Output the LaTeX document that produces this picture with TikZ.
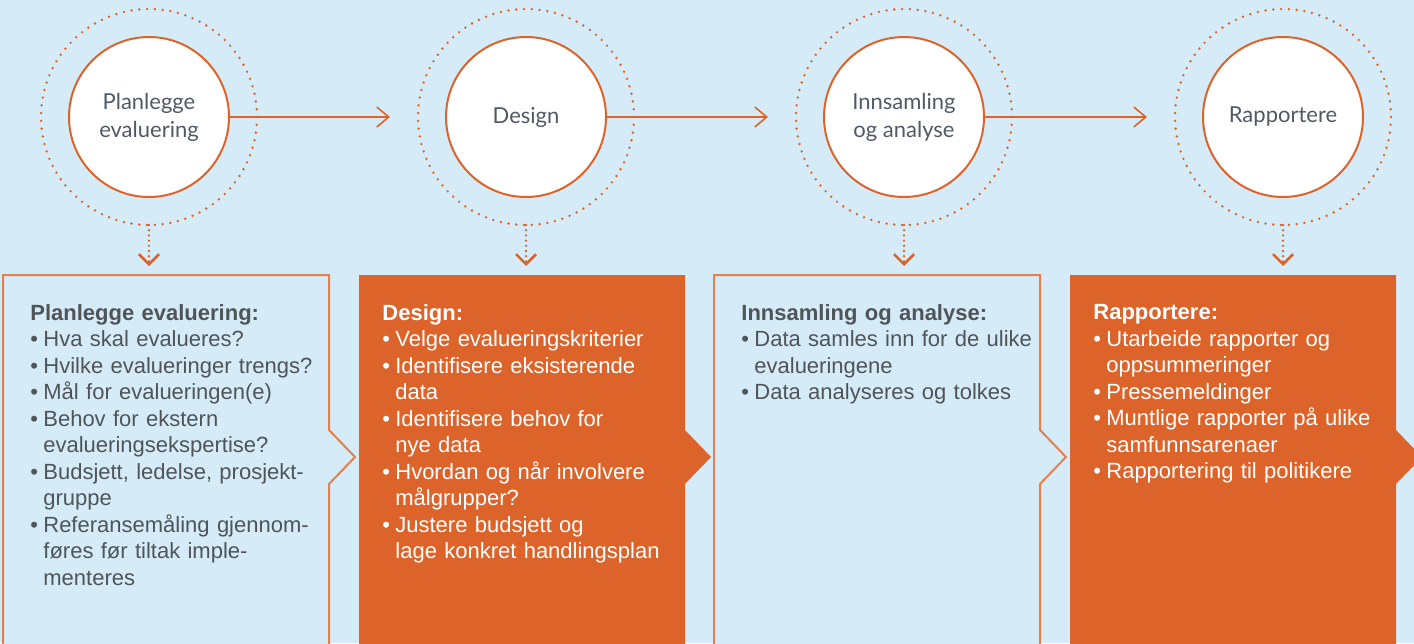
\documentclass[tikz,border=0pt]{standalone}
\usepackage{fontspec}
\setmainfont{Liberation Sans}
\newfontfamily\circfont{Lato}
\usetikzlibrary{arrows.meta,positioning}

\definecolor{bgblue}{HTML}{D5ECF8}
\definecolor{evorange}{HTML}{DC642B}
\definecolor{lineorange}{HTML}{E2804F}
\definecolor{textgray}{HTML}{4F5459}
\definecolor{circgray}{HTML}{505A66}

\newcommand{\bul}{\makebox[6.5pt][l]{\textbullet}}
\newcommand{\cont}{\hspace*{6.5pt}}

\begin{document}
\begin{tikzpicture}[x=0.5pt, y=-0.5pt,
    stepcircle/.style={circle, draw=evorange, line width=1pt, fill=white, minimum size=80pt, inner sep=0pt, align=center, text=circgray, font=\circfont\fontsize{11}{14}\selectfont},
    ring/.style={circle, draw=evorange, line width=1.35pt, dash pattern=on 0pt off 3.9pt, line cap=round, minimum size=108pt, inner sep=0pt, outer sep=0pt},
    flow/.style={draw=evorange, line width=0.8pt, -{Straight Barb[length=6pt,width=10pt]}},
    drop/.style={draw=evorange, line width=1.3pt, dash pattern=on 0pt off 2.6pt, line cap=round, -{Straight Barb[length=5pt,width=10pt]}},
    outbox/.style={draw=lineorange, line width=1pt, fill=bgblue},
    fullbox/.style={fill=evorange},
    boxtext/.style={anchor=north west, inner sep=0pt, text width=158pt, align=left, font=\fontsize{11}{13.25}\selectfont}]

    \useasboundingbox (0,0) rectangle (1414,643);
    \clip (0,0) rectangle (1414,643);
    \fill[bgblue] (0,0) rectangle (1414,643);

    % boxes with a notch on the right
    \foreach \x/\sty in {3/outbox, 359/fullbox, 714/outbox, 1070/fullbox}
        \path[\sty] (\x,275) -- ++(326,0) -- ++(0,155) -- ++(26,27) -- ++(-26,27) -- ++(0,180) -- ++(-326,0) -- cycle;

    % dotted rings
    \foreach \i/\x in {1/149, 2/526, 3/904, 4/1283}
        \node[ring] (r\i) at (\x,117) {};

    \node[stepcircle] (c1) at (r1) {Planlegge\\evaluering};
    \node[stepcircle] (c2) at (r2) {Design};
    \node[stepcircle] (c3) at (r3) {Innsamling\\og analyse};
    \node[stepcircle] (c4) at (r4) {Rapportere};

    \draw[flow] (c1) -- ([xshift=-14pt]r2.west);
    \draw[flow] (c2) -- ([xshift=-14pt]r3.west);
    \draw[flow] (c3) -- ([xshift=-14pt]r4.west);

    \foreach \i/\x in {1/149, 2/526, 3/904, 4/1283} {
        \coordinate (d\i) at (\x,266);
        \draw[drop] (r\i.south) -- (d\i);
    }

    \node[boxtext, text=textgray] (t1) at (30,304) {\textbf{Planlegge evaluering:}\\
        \bul Hva skal evalueres?\\
        \bul Hvilke evalueringer trengs?\\
        \bul Mål for evalueringen(e)\\
        \bul Behov for ekstern\\
        \cont evalueringsekspertise?\\
        \bul Budsjett, ledelse, prosjekt-\\
        \cont gruppe\\
        \bul Referansemåling gjennom-\\
        \cont føres før tiltak imple-\\
        \cont menteres};
    \node[boxtext, text=white] (t2) at (382,304) {\textbf{Design:}\\
        \bul Velge evalueringskriterier\\
        \bul Identifisere eksisterende\\
        \cont data\\
        \bul Identifisere behov for\\
        \cont nye data\\
        \bul Hvordan og når involvere\\
        \cont målgrupper?\\
        \bul Justere budsjett og\\
        \cont lage konkret handlingsplan};
    \node[boxtext, text=textgray] (t3) at (741,304) {\textbf{Innsamling og analyse:}\\
        \bul Data samles inn for de ulike\\
        \cont evalueringene\\
        \bul Data analyseres og tolkes};
    \node[boxtext, text=white] (t4) at (1093,304) {\textbf{Rapportere:}\\
        \bul Utarbeide rapporter og\\
        \cont oppsummeringer\\
        \bul Pressemeldinger\\
        \bul Muntlige rapporter på ulike\\
        \cont samfunnsarenaer\\
        \bul Rapportering til politikere};
\end{tikzpicture}
\end{document}
